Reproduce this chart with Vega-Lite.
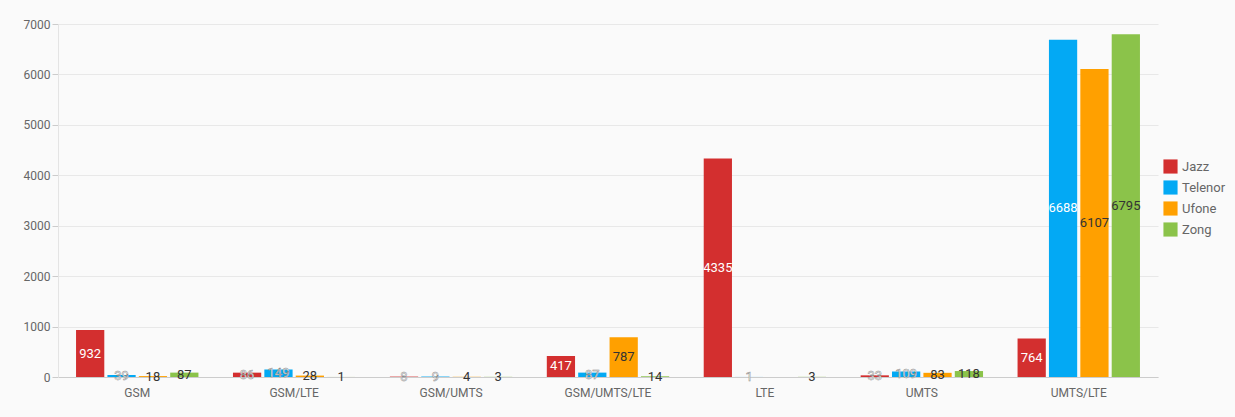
{
  "$schema": "https://vega.github.io/schema/vega-lite/v6.json",
  "autosize": {"type": "none"},
  "width": 1100,
  "height": 353,
  "padding": {"left": 58, "top": 24, "right": 77, "bottom": 40},
  "background": "#fafafa",
  "config": {
    "view": {"stroke": null},
    "font": "Roboto",
    "axis": {"labelColor": "#666", "labelFont": "Roboto", "labelFontSize": 12, "gridColor": "#e8e8e8", "domainColor": "#cccccc", "tickColor": "#cccccc"}
  },
  "data": {
    "values": [
      {"category": "GSM", "operator": "Jazz", "value": 932},
      {"category": "GSM", "operator": "Telenor", "value": 39},
      {"category": "GSM", "operator": "Ufone", "value": 18},
      {"category": "GSM", "operator": "Zong", "value": 87},
      {"category": "GSM/LTE", "operator": "Jazz", "value": 86},
      {"category": "GSM/LTE", "operator": "Telenor", "value": 149},
      {"category": "GSM/LTE", "operator": "Ufone", "value": 28},
      {"category": "GSM/LTE", "operator": "Zong", "value": 1},
      {"category": "GSM/UMTS", "operator": "Jazz", "value": 8},
      {"category": "GSM/UMTS", "operator": "Telenor", "value": 9},
      {"category": "GSM/UMTS", "operator": "Ufone", "value": 4},
      {"category": "GSM/UMTS", "operator": "Zong", "value": 3},
      {"category": "GSM/UMTS/LTE", "operator": "Jazz", "value": 417},
      {"category": "GSM/UMTS/LTE", "operator": "Telenor", "value": 87},
      {"category": "GSM/UMTS/LTE", "operator": "Ufone", "value": 787},
      {"category": "GSM/UMTS/LTE", "operator": "Zong", "value": 14},
      {"category": "LTE", "operator": "Jazz", "value": 4335},
      {"category": "LTE", "operator": "Telenor", "value": 1},
      {"category": "LTE", "operator": "Zong", "value": 3},
      {"category": "UMTS", "operator": "Jazz", "value": 33},
      {"category": "UMTS", "operator": "Telenor", "value": 109},
      {"category": "UMTS", "operator": "Ufone", "value": 83},
      {"category": "UMTS", "operator": "Zong", "value": 118},
      {"category": "UMTS/LTE", "operator": "Jazz", "value": 764},
      {"category": "UMTS/LTE", "operator": "Telenor", "value": 6688},
      {"category": "UMTS/LTE", "operator": "Ufone", "value": 6107},
      {"category": "UMTS/LTE", "operator": "Zong", "value": 6795}
    ]
  },
  "transform": [{"calculate": "datum.value / 2", "as": "mid"}],
  "encoding": {
    "x": {"field": "category", "type": "nominal", "title": null,
      "scale": {"paddingInner": 0.22, "paddingOuter": 0.115},
      "axis": {"labelAngle": 0, "ticks": false, "labelPadding": 10, "domainColor": "#cccccc"}},
    "xOffset": {"field": "operator", "type": "nominal", "scale": {"domain": ["Jazz", "Telenor", "Ufone", "Zong"], "paddingInner": 0.1}}
  },
  "layer": [
    {
      "mark": {"type": "bar"},
      "encoding": {
        "y": {"field": "value", "type": "quantitative", "title": null,
          "scale": {"domain": [0, 7000]},
          "axis": {"values": [0, 1000, 2000, 3000, 4000, 5000, 6000, 7000], "format": "d", "domain": true, "domainColor": "#e4e4e4", "tickSize": 6, "labelPadding": 2}},
        "color": {"field": "operator", "type": "nominal", "title": null,
          "scale": {"domain": ["Jazz", "Telenor", "Ufone", "Zong"], "range": ["#d32f2f", "#03a9f4", "#ffa000", "#8bc34a"]},
          "legend": {"orient": "none", "legendX": 1105, "legendY": 135, "symbolType": "square", "symbolSize": 200, "symbolStrokeWidth": 0, "labelFontSize": 13, "labelColor": "#666", "labelFont": "Roboto", "rowPadding": 6, "padding": 0}}
      }
    },
    {
      "mark": {"type": "text", "fontSize": 13, "font": "Roboto", "baseline": "middle", "align": "center", "strokeWidth": 0.5},
      "encoding": {
        "y": {"field": "mid", "type": "quantitative"},
        "text": {"field": "value", "type": "quantitative"},
        "fill": {"condition": {"test": "datum.operator === 'Jazz' || datum.operator === 'Telenor'", "value": "white"}, "value": "#333"},
        "stroke": {"condition": {"test": "(datum.operator === 'Jazz' || datum.operator === 'Telenor') && datum.value < 200", "value": "#888"}, "value": null}
      }
    }
  ]
}
